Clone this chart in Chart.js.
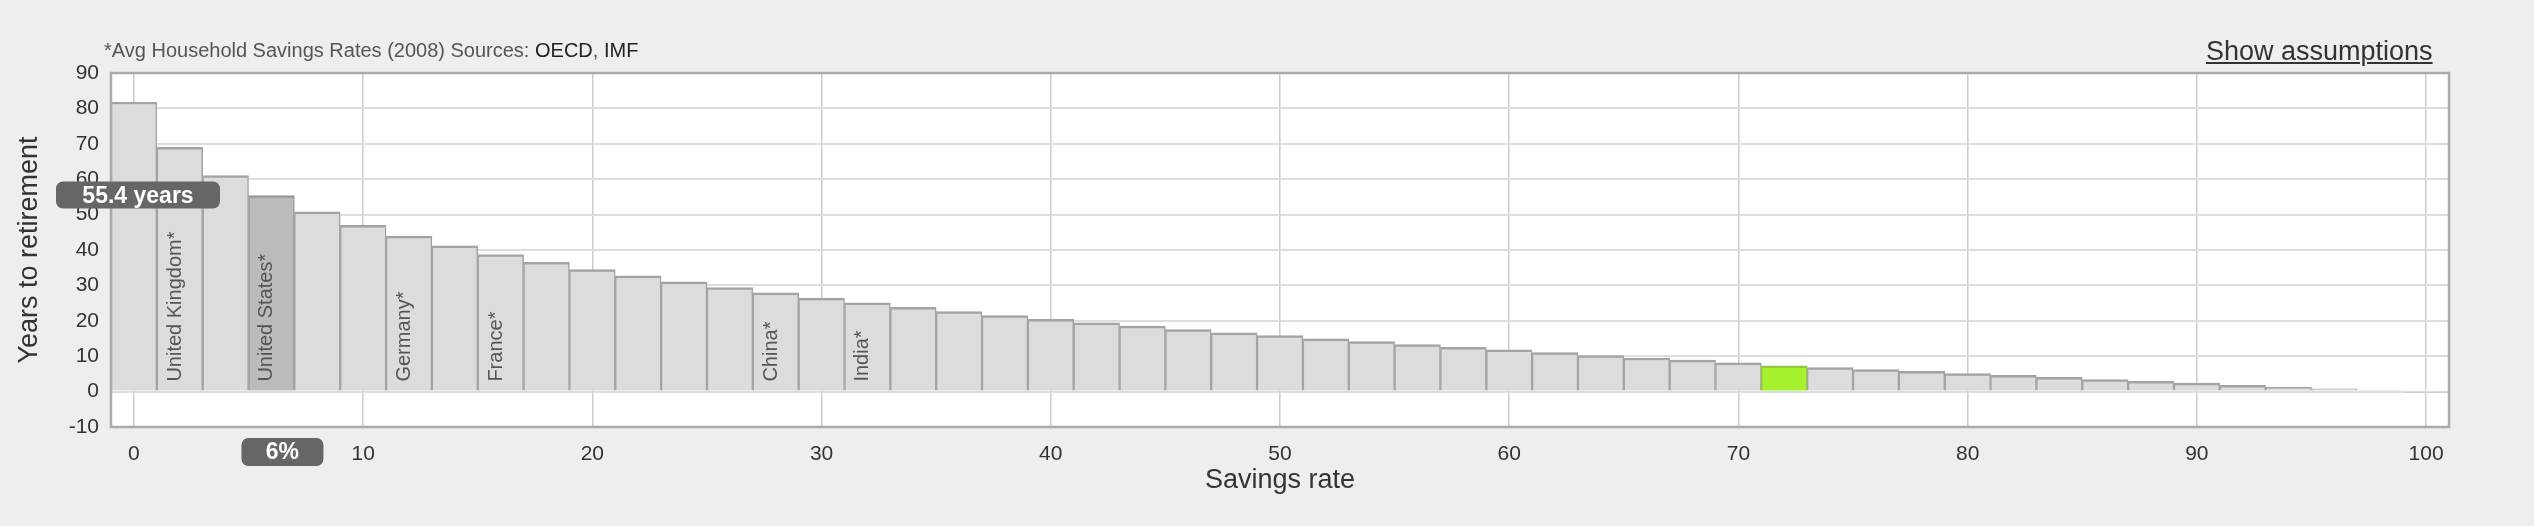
<!DOCTYPE html>
<html>
<head>
<meta charset="utf-8">
<script src="https://cdn.jsdelivr.net/npm/chart.js@4/dist/chart.umd.min.js"></script>
<style>
html,body{margin:0;padding:0;background:#eeeeee;}
#wrap{position:relative;width:2534px;height:526px;}
#note{position:absolute;left:104px;top:39px;font:20px "Liberation Sans",Arial,sans-serif;line-height:22px;color:#555;white-space:nowrap;}
#note span{color:#222;}
#assume{position:absolute;left:2206px;top:35px;font:27px "Liberation Sans",Arial,sans-serif;line-height:32px;color:#333;text-decoration:underline;white-space:nowrap;}
canvas{position:absolute;left:0;top:0;}
</style>
</head>
<body>
<div id="wrap">
<canvas id="c" width="2534" height="526"></canvas>
<div id="note">*Avg Household Savings Rates (2008) Sources: <span>OECD</span>, <span>IMF</span></div>
<div id="assume">Show assumptions</div>
</div>
<script>
// ---- data ----
const savingsRates = [0,2,4,6,8,10,12,14,16,18,20,22,24,26,28,30,32,34,36,38,40,42,44,46,48,50,52,54,56,58,60,62,64,66,68,70,72,74,76,78,80,82,84,86,88,90,92,94,96,98,100];
const yearsToRetirement = [81.8,69.0,61.0,55.4,50.8,47.0,43.9,41.2,38.7,36.5,34.5,32.7,31.0,29.4,27.9,26.4,25.1,23.8,22.6,21.5,20.4,19.4,18.5,17.5,16.6,15.8,14.9,14.1,13.3,12.5,11.8,11.0,10.2,9.5,8.9,8.1,7.3,6.8,6.2,5.7,5.1,4.6,4.0,3.4,2.9,2.4,1.8,1.3,0.8,0.3,-0.3];
const xTickValues = [0,10,20,30,40,50,60,70,80,90,100];
const yTickValues = [-10,0,10,20,30,40,50,60,70,80,90];
const countryNames = ['United Kingdom*','United States*','Germany*','France*','China*','India*'];
const countryRates = [2,6,12,16,28,32];
const selectedRate = 6;
const selectedYears = 55.4;
const targetRate = 72;

const FONT = '"Liberation Sans", Arial, sans-serif';

const bg = savingsRates.map(r => r === selectedRate ? '#bbbbbb' : (r === targetRate ? '#a6f22e' : '#dcdcdc'));
const bd = savingsRates.map(r => r === selectedRate ? '#999999' : (r === targetRate ? '#95c83a' : '#a3a3a3'));

const plotBg = {
  id: 'plotBg',
  beforeDraw(chart) {
    const {ctx, chartArea: a} = chart;
    ctx.save();
    ctx.fillStyle = '#ffffff';
    ctx.fillRect(a.left, a.top, a.right - a.left, a.bottom - a.top);
    ctx.restore();
  }
};

const overlay = {
  id: 'overlay',
  afterDatasetsDraw(chart) {
    const {ctx, chartArea: a, scales: {x, y}} = chart;
    ctx.save();
    ctx.fillStyle = '#555555';
    ctx.font = '20px ' + FONT;
    ctx.textAlign = 'left';
    ctx.textBaseline = 'alphabetic';
    countryNames.forEach((name, i) => {
      const px = x.getPixelForValue(countryRates[i]) + 1;
      const py = y.getPixelForValue(0) - 10;
      ctx.save();
      ctx.translate(px, py);
      ctx.rotate(-Math.PI / 2);
      ctx.fillText(name, 0, 0);
      ctx.restore();
    });
    ctx.restore();
    ctx.save();
    ctx.strokeStyle = '#aaaaaa';
    ctx.lineWidth = 2.5;
    ctx.strokeRect(a.left, a.top, a.right - a.left, a.bottom - a.top);
    ctx.restore();
  },
  afterDraw(chart) {
    const {ctx, chartArea: a, scales: {x, y}} = chart;
    ctx.save();
    ctx.fillStyle = '#666666';
    const cy = y.getPixelForValue(selectedYears);
    ctx.beginPath();
    ctx.roundRect(a.left - 55, cy - 14, 164, 27, 7);
    ctx.fill();
    const cx = x.getPixelForValue(selectedRate) + 11;
    const py = a.bottom + 11;
    ctx.beginPath();
    ctx.roundRect(cx - 41, py, 82, 28, 7);
    ctx.fill();
    ctx.fillStyle = '#ffffff';
    ctx.font = 'bold 23px ' + FONT;
    ctx.textAlign = 'center';
    ctx.textBaseline = 'middle';
    ctx.fillText(selectedYears + ' years', a.left - 55 + 82, cy + 1);
    ctx.fillText(selectedRate + '%', cx, py + 15);
    ctx.restore();
  }
};

new Chart(document.getElementById('c'), {
  type: 'bar',
  data: {
    datasets: [{
      data: savingsRates.map((r, i) => ({x: r, y: yearsToRetirement[i]})),
      backgroundColor: bg,
      borderColor: bd,
      borderWidth: {top: 2.5, left: 1.5, right: 1.5, bottom: 0},
      borderSkipped: false,
      barPercentage: 1,
      categoryPercentage: 1
    }]
  },
  plugins: [plotBg, overlay],
  options: {
    responsive: false,
    animation: false,
    layout: {padding: {top: 73, right: 85, bottom: 0, left: 0}},
    plugins: {legend: {display: false}, tooltip: {enabled: false}},
    scales: {
      x: {
        type: 'linear',
        min: -1,
        max: 101,
        offset: false,
        afterBuildTicks: s => { s.ticks = xTickValues.map(v => ({value: v})); },
        afterFit: s => { s.height = 99; },
        grid: {color: '#cccccc', lineWidth: 1.5, drawTicks: false, offset: false},
        border: {display: false},
        ticks: {color: '#333333', font: {family: FONT, size: 21}, padding: 15, maxRotation: 0, autoSkip: false},
        title: {display: true, text: 'Savings rate', color: '#333333', font: {family: FONT, size: 27}, padding: {top: 0, bottom: 29}}
      },
      y: {
        min: -10,
        max: 90,
        afterBuildTicks: s => { s.ticks = yTickValues.map(v => ({value: v})); },
        afterFit: s => { s.width = 111; },
        grid: {color: '#dddddd', lineWidth: 2, drawTicks: false},
        border: {display: false},
        ticks: {color: '#333333', font: {family: FONT, size: 21}, padding: 12},
        title: {display: true, text: 'Years to retirement', color: '#333333', font: {family: FONT, size: 27}, padding: {top: 13, bottom: 0}}
      }
    }
  }
});
</script>
</body>
</html>
